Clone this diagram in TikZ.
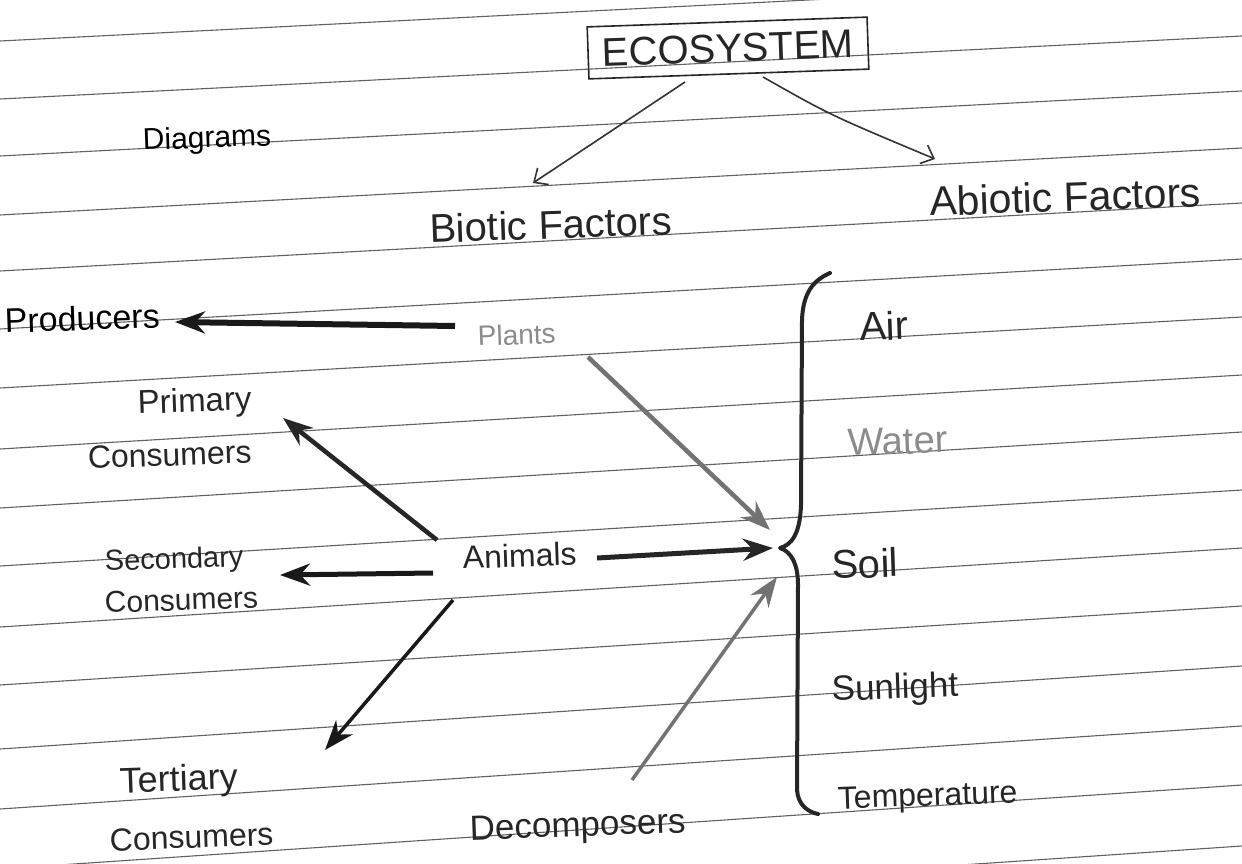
\documentclass[tikz,border=0pt]{standalone}
\usepackage{fontspec}
\setmainfont{Liberation Sans}
\usetikzlibrary{arrows.meta}
\begin{document}
\begin{tikzpicture}[x=1pt,y=-1pt,
  rule/.style={black!62, line width=1.1pt},
  hand/.style={font=\fontsize{#1}{#1}\selectfont, text=black!85, inner sep=0pt, rotate=2},
  faded/.style={text=black!45},
  thinarrow/.style={black!80, line width=1.6pt, -{Straight Barb[length=11pt,width=20pt]}},
  boldarrow/.style={line width=#1, -{Stealth[length=30pt,width=22pt]}},
  bracestyle/.style={black!85, line width=4pt, line cap=round, line join=round}
]
\useasboundingbox (0,0) rectangle (1242,864);
\clip (0,0) rectangle (1242,864);
\fill[white] (0,0) rectangle (1242,864);
% ruled paper lines
\foreach \a/\b in {41/-22, 99/36, 156/91, 215/148, 271/203, 329/259, 388/317, 449/375, 508/432, 566/490, 627/548, 685/606, 749/666, 809/726, 869/785, 930/846}
  \draw[rule] (0,\a) -- (1242,\b);

% texts
\node[hand=40, draw=black!85, line width=1.6pt, minimum width=280pt, minimum height=52pt] (eco) at (728,48) {ECOSYSTEM};
\node[hand=30, anchor=base west, text=black] (diag) at (143,150) {Diagrams};
\node[hand=40, anchor=base west] (biotic) at (430,243) {Biotic Factors};
\node[hand=41, anchor=base west] (abiotic) at (930,216) {Abiotic Factors};
\node[hand=34, anchor=base west, text=black] (prod) at (5,333) {Producers};
\node[hand=28, anchor=base west, faded] (plants) at (478,346) {Plants};
\node[hand=33, anchor=base east] (prim) at (252,410) {Primary};
\node[hand=32, anchor=base east] (primc) at (252,463) {Consumers};
\node[hand=29, anchor=base west] (sec) at (105,571) {Secondary};
\node[hand=30, anchor=base west] (secc) at (105,613) {Consumers};
\node[hand=32, anchor=base west] (anim) at (463,569) {Animals};
\node[hand=36, anchor=base west] (ter) at (120,793) {Tertiary};
\node[hand=32, anchor=base west] (terc) at (110,851) {Consumers};
\node[hand=35, anchor=base west] (dec) at (470,840) {Decomposers};
\node[hand=40, anchor=base west] (air) at (860,341) {Air};
\node[hand=38, anchor=base west, faded] (water) at (848,456) {Water};
\node[hand=40, anchor=base west] (soil) at (832,579) {Soil};
\node[hand=35, anchor=base west] (sun) at (832,701) {Sunlight};
\node[hand=32, anchor=base west] (temp) at (838,809) {Temperature};

% arrow end points
\coordinate (j) at (780,548);
\coordinate (ecoL) at (685,82);
\coordinate (ecoR) at (763,77);
\coordinate (bioT) at (533,183);
\coordinate (abioT) at (935,159);
\coordinate (plantsL) at (455,326);
\coordinate (prodT) at (175,322);
\coordinate (plantsR) at (588,357);
\coordinate (jP) at (770,530);
\coordinate (animP) at (437,540);
\coordinate (primT) at (283,418);
\coordinate (animR) at (597,558);
\coordinate (jA) at (773,548);
\coordinate (animS) at (433,573);
\coordinate (secT) at (280,575);
\coordinate (animT) at (453,600);
\coordinate (terT) at (325,750);
\coordinate (decT) at (632,780);
\coordinate (jD) at (777,577);

% connectors
\draw[thinarrow] (ecoL) -- (bioT);
\draw[thinarrow] (ecoR) .. controls (830,115) .. (abioT);
\draw[boldarrow=6pt, black!90] (plantsL) -- (prodT);
\draw[boldarrow=4.5pt, black!55] (plantsR) -- (jP);
\draw[boldarrow=4.5pt, black!85] (animP) -- (primT);
\draw[boldarrow=5pt, black!85] (animR) -- (jA);
\draw[boldarrow=5pt, black!90] (animS) -- (secT);
\draw[boldarrow=3.5pt, black!90] (animT) -- (terT);
\draw[boldarrow=3.5pt, black!55] (decT) -- (jD);

% brace
\draw[bracestyle] (830,273) .. controls (814,280) and (803,292) .. (802,320)
  -- (801,505) .. controls (800,535) and (791,545) .. (j)
  .. controls (792,552) and (798,565) .. (798,585)
  -- (797,790) .. controls (798,805) and (808,812) .. (818,814);
\end{tikzpicture}
\end{document}
